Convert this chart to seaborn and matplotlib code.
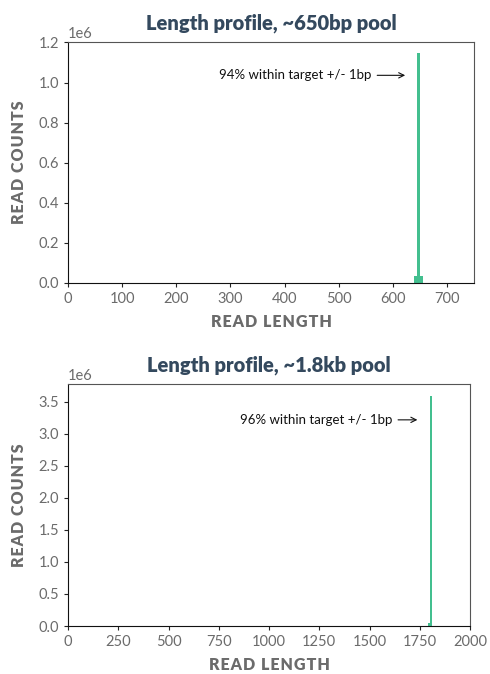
import matplotlib
matplotlib.use("Agg")
import matplotlib.pyplot as plt
import seaborn as sns
import pandas as pd

# ---- data ----
len650 = [642, 647, 652]
cnt650 = [0.035e6, 1.145e6, 0.035e6]
len18k = [1790, 1800]
cnt18k = [0.04e6, 3.6e6]
titles = ["Length profile, ~650bp pool", "Length profile, ~1.8kb pool"]
notes = ["94% within target +/- 1bp", "96% within target +/- 1bp"]
xlabel = "READ LENGTH"
ylabel = "READ COUNTS"

sns.set_style("ticks")
plt.rcParams['font.family'] = ['Lato', 'DejaVu Sans']

GREEN = "#43bf8f"
GREY = "#6b6b6b"
TITLE = "#34495e"
HAIR = "\u200a"

def spaced(s):
    return HAIR.join(s)

fig = plt.figure(figsize=(4.9, 6.74), dpi=100)
ax1 = fig.add_axes([68/490, 1-283/674, (474-68)/490, (283-42)/674])
ax2 = fig.add_axes([68/490, 1-626/674, (470-68)/490, (626-384)/674])

df1 = pd.DataFrame({"len": len650, "cnt": cnt650})
df2 = pd.DataFrame({"len": len18k, "cnt": cnt18k})

sns.histplot(data=df1, x="len", weights="cnt", binwidth=5, binrange=(640, 655),
             color=GREEN, alpha=1, edgecolor="none", linewidth=0, ax=ax1)
sns.histplot(data=df2, x="len", weights="cnt", binwidth=10, binrange=(1790, 1810),
             color=GREEN, alpha=1, edgecolor="none", linewidth=0, ax=ax2)

ax1.set_xlim(0, 750)
ax2.set_xlim(0, 2000)
ax1.set_xticks(range(0, 800, 100))
ax2.set_xticks(range(0, 2001, 250))

ann = [(notes[0], (628, 1.036e6), (560, 1.036e6)),
       (notes[1], (1752, 3.22e6), (1612, 3.22e6))]
for ax, title, (note, xy, xyt) in zip([ax1, ax2], titles, ann):
    ax.set_title(title, fontsize=14.5, fontweight="heavy", color=TITLE, pad=9)
    ax.set_xlabel(spaced(xlabel), fontsize=11.5, fontweight="heavy", color=GREY, labelpad=6)
    ax.set_ylabel(spaced(ylabel), fontsize=11.5, fontweight="heavy", color=GREY, labelpad=8)
    ax.tick_params(labelsize=10.5, colors="#222222", labelcolor=GREY, length=3)
    ax.yaxis.get_offset_text().set_color(GREY)
    ax.yaxis.get_offset_text().set_fontsize(10.5)
    for s in ["top", "right"]:
        ax.spines[s].set_visible(True)
        ax.spines[s].set_color("#555555")
    for s in ["left", "bottom"]:
        ax.spines[s].set_color("#111111")
    ax.annotate(note, xy=xy, xytext=xyt, ha="right", va="center", fontsize=9.5, color="#111111",
                arrowprops=dict(arrowstyle="->", color="#111111", lw=0.8))

fig.savefig("out.png", dpi=100)
